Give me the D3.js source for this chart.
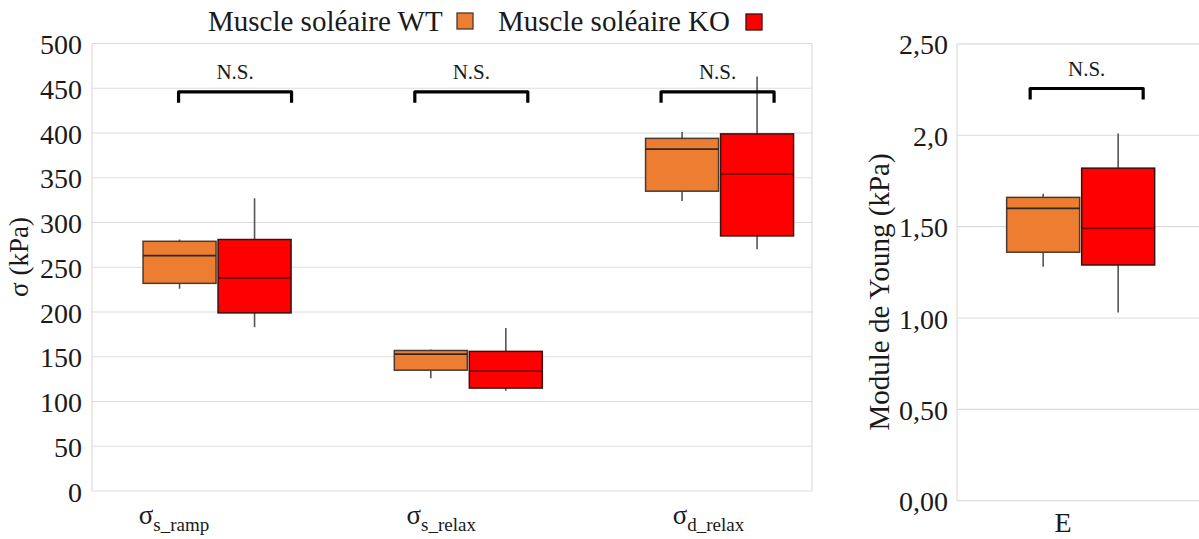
<!DOCTYPE html>
<html>
<head>
<meta charset="utf-8">
<script src="https://cdn.jsdelivr.net/npm/d3@7"></script>
<style>
  html, body { margin: 0; padding: 0; background: #fff; }
  svg { display: block; }
  text { font-family: "Liberation Serif", "Times New Roman", serif; fill: #1a1a1a; }
</style>
</head>
<body>
<svg id="chart" width="1199" height="539"></svg>
<script>
// ---------------- DATA ----------------
const categories = ["s_ramp", "s_relax", "d_relax"];
const categoryMain = ["σ", "σ", "σ"];
const categorySub = ["s_ramp", "s_relax", "d_relax"];
const seriesNames = ["Muscle soléaire WT", "Muscle soléaire KO"];

// box statistics per category (kPa): low whisker, Q1, median, Q3, high whisker
const wtLow  = [226, 126, 324];
const wtQ1   = [232, 135, 335];
const wtMed  = [263, 153, 382];
const wtQ3   = [279, 157, 394];
const wtHigh = [281, 158, 401];

const koLow  = [183, 112, 270];
const koQ1   = [199, 115, 285];
const koMed  = [238, 134, 354];
const koQ3   = [281, 156, 399];
const koHigh = [327, 182, 463];

// Young modulus panel
const eCategory = ["E"];
const eWT = [1.28, 1.36, 1.60, 1.66, 1.68];
const eKO = [1.03, 1.29, 1.49, 1.82, 2.01];

const leftTicks = [0, 50, 100, 150, 200, 250, 300, 350, 400, 450, 500];
const rightTicks = [0, 0.5, 1, 1.5, 2, 2.5];
const rightTickLabels = ["0,00", "0,50", "1,00", "1,50", "2,0", "2,50"];

const sigLabels = ["N.S.", "N.S.", "N.S."];
const sigLevelLeft = [446, 446, 446];
const sigLevelRight = [2.256];

// ---------------- LAYOUT ----------------
const colors = { WT: "#ED7D31", KO: "#FF0000" };
const strokes = { WT: "#4a3a30", KO: "#3a1010" };
const medianColors = { WT: "#2a2a2a", KO: "#7a0000" };
const grid = "#dcdcdc";
const bracketShift = [18, 3, -2];
const rightBracketShift = [6];

const svg = d3.select("#chart");

// Left panel
const L = { x0: 92, x1: 812, y0: 43.5, y1: 491 };
const yL = d3.scaleLinear().domain([0, 500]).range([L.y1, L.y0]);
const xL = d3.scalePoint().domain(categories).range([L.x0, L.x1]).padding(0.4328).align(0.575);
const xLabel = d3.scalePoint().domain(categories).range([L.x0, L.x1]).padding(0.347).align(0.442);
const xSeries = d3.scaleBand().domain(["WT", "KO"]).range([-74, 74]).paddingInner(0.0267);

// Right panel
const R = { x0: 957, x1: 1199, y0: 43.9, y1: 500.7 };
const yR = d3.scaleLinear().domain([0, 2.5]).range([R.y1, R.y0]);
const xR = d3.scalePoint().domain(eCategory).range([R.x0, R.x1]).padding(0.5).align(0.511);
const xRLabel = d3.scalePoint().domain(eCategory).range([R.x0, R.x1]).padding(0.5).align(0.438);

// --- grid left
const gL = svg.append("g");
gL.selectAll("line.h").data(leftTicks).join("line")
  .attr("x1", L.x0).attr("x2", L.x1)
  .attr("y1", d => yL(d)).attr("y2", d => yL(d))
  .attr("stroke", grid).attr("stroke-width", 1.2);
gL.selectAll("line.v").data([L.x0, L.x1]).join("line")
  .attr("x1", d => d).attr("x2", d => d)
  .attr("y1", L.y0).attr("y2", L.y1)
  .attr("stroke", grid).attr("stroke-width", 1.2);

// left axis labels
const axL = d3.axisLeft(yL).tickValues(leftTicks).tickSize(0).tickPadding(0);
const axLg = svg.append("g").attr("transform", `translate(${L.x0 - 10},0)`).call(axL);
axLg.select(".domain").remove();
axLg.selectAll("text")
  .attr("font-size", 28).attr("dy", "0.36em")
  .style("font-family", '"Liberation Serif", serif').attr("fill", "#1a1a1a");

// --- grid right
const gR = svg.append("g");
gR.selectAll("line.h").data(rightTicks).join("line")
  .attr("x1", R.x0).attr("x2", R.x1)
  .attr("y1", d => yR(d)).attr("y2", d => yR(d))
  .attr("stroke", grid).attr("stroke-width", 1.2);
gR.append("line").attr("x1", R.x0).attr("x2", R.x0).attr("y1", R.y0).attr("y2", R.y1)
  .attr("stroke", grid).attr("stroke-width", 1.2);

const axR = d3.axisLeft(yR).tickValues(rightTicks).tickSize(0).tickPadding(0)
  .tickFormat((d, i) => rightTickLabels[i]);
const axRg = svg.append("g").attr("transform", `translate(${R.x0 - 9},0)`).call(axR);
axRg.select(".domain").remove();
axRg.selectAll("text")
  .attr("font-size", 28).attr("dy", "0.36em")
  .style("font-family", '"Liberation Serif", serif').attr("fill", "#1a1a1a");

// --- box drawing
function drawBox(g, cx, stats, y, key) {
  const bw = xSeries.bandwidth();
  const left = cx + xSeries(key);
  const mid = left + bw / 2;
  const [lo, q1, med, q3, hi] = stats;
  g.append("line").attr("x1", mid).attr("x2", mid).attr("y1", y(hi)).attr("y2", y(q3))
    .attr("stroke", "#555").attr("stroke-width", 1.6);
  g.append("line").attr("x1", mid).attr("x2", mid).attr("y1", y(q1)).attr("y2", y(lo))
    .attr("stroke", "#555").attr("stroke-width", 1.6);
  g.append("rect").attr("x", left).attr("y", y(q3)).attr("width", bw).attr("height", y(q1) - y(q3))
    .attr("fill", colors[key]).attr("stroke", strokes[key]).attr("stroke-width", 1.5);
  g.append("line").attr("x1", left).attr("x2", left + bw).attr("y1", y(med)).attr("y2", y(med))
    .attr("stroke", medianColors[key]).attr("stroke-width", 1.8);
}

const boxes = svg.append("g");
categories.forEach((c, i) => {
  drawBox(boxes, xL(c), [wtLow[i], wtQ1[i], wtMed[i], wtQ3[i], wtHigh[i]], yL, "WT");
  drawBox(boxes, xL(c), [koLow[i], koQ1[i], koMed[i], koQ3[i], koHigh[i]], yL, "KO");
});
drawBox(boxes, xR("E"), eWT, yR, "WT");
drawBox(boxes, xR("E"), eKO, yR, "KO");

// --- significance brackets
function bracket(cx, yTop, label) {
  const half = 56.5, drop = 11;
  svg.append("path")
    .attr("d", `M${cx - half},${yTop + drop} L${cx - half},${yTop} L${cx + half},${yTop} L${cx + half},${yTop + drop}`)
    .attr("fill", "none").attr("stroke", "#000").attr("stroke-width", 3.2)
    .attr("stroke-linejoin", "round").attr("stroke-linecap", "butt");
  svg.append("text").attr("x", cx).attr("y", yTop - 12.5)
    .attr("text-anchor", "middle").attr("font-size", 21).text(label);
}
categories.forEach((c, i) => bracket(xL(c) + bracketShift[i], yL(sigLevelLeft[i]), sigLabels[i]));
bracket(xR("E") + rightBracketShift[0], yR(sigLevelRight[0]), "N.S.");

// --- category labels
categories.forEach((c, i) => {
  const t = svg.append("text").attr("x", xLabel(c)).attr("y", 524).attr("text-anchor", "middle");
  t.append("tspan").attr("font-size", 27).text(categoryMain[i]);
  t.append("tspan").attr("font-size", 19).attr("dy", 7).text(categorySub[i]);
});
svg.append("text").attr("x", xRLabel("E")).attr("y", 532).attr("text-anchor", "middle")
  .attr("font-size", 28).text("E");

// --- axis titles
svg.append("text").attr("transform", `translate(28,257) rotate(-90)`)
  .attr("text-anchor", "middle").attr("font-size", 27).text("σ (kPa)");
svg.append("text").attr("transform", `translate(888.5,292) rotate(-90)`)
  .attr("text-anchor", "middle").attr("font-size", 29).text("Module de Young (kPa)");

// --- legend
const legend = svg.append("g");
const legendItems = [
  { name: seriesNames[0], key: "WT", tx: 208, sx: 457, sy: 13 },
  { name: seriesNames[1], key: "KO", tx: 498, sx: 746, sy: 14 }
];
legend.selectAll("text").data(legendItems).join("text")
  .attr("x", d => d.tx).attr("y", 31).attr("font-size", 29).text(d => d.name);
legend.selectAll("rect").data(legendItems).join("rect")
  .attr("x", d => d.sx).attr("y", d => d.sy).attr("width", 16).attr("height", 16)
  .attr("fill", d => colors[d.key]).attr("stroke", d => strokes[d.key]).attr("stroke-width", 1.3);
</script>
</body>
</html>
